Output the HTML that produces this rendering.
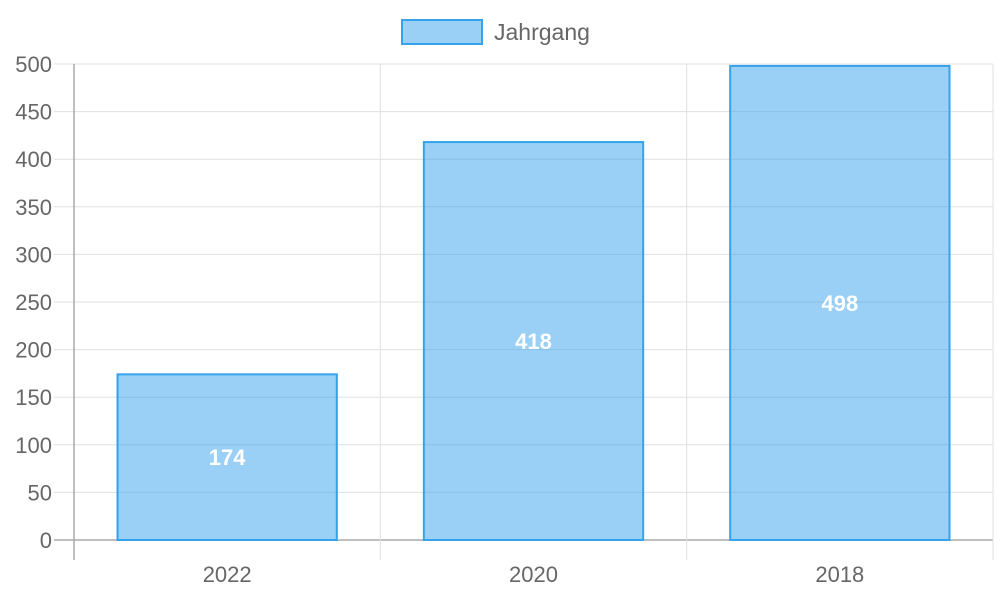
<!DOCTYPE html>
<html><head><meta charset="utf-8"><style>
html,body{margin:0;padding:0;background:#fff;}
svg{display:block;font-family:"Liberation Sans",sans-serif;}
</style></head><body>
<svg id="chart" width="1000" height="600">
<g>
<rect x="402" y="20" width="80" height="24" fill="rgba(54,162,235,0.5)" stroke="#36a2eb" stroke-width="2"/>
<text x="494" y="40" font-size="23" fill="#666">Jahrgang</text>
</g>
<g id="grid"></g><g id="bars"></g><g id="labels"></g>
</svg>
<script>
const categories=["2022","2020","2018"];
const values=[174,418,498];
const yTicks=[0,50,100,150,200,250,300,350,400,450,500];
const L=74,R=993,T=64,B=540,yMax=500;
const ns="http://www.w3.org/2000/svg";
const svg=document.getElementById('chart');
const g=document.getElementById('grid'),gb=document.getElementById('bars'),gl=document.getElementById('labels');
const y=v=>B-(v/yMax)*(B-T);
const cw=(R-L)/categories.length;
const x=i=>L+cw*i;
function mk(tag,attrs,parent){const e=document.createElementNS(ns,tag);for(const k in attrs)e.setAttribute(k,attrs[k]);parent.appendChild(e);return e;}
yTicks.forEach(t=>{
  const ln=mk('line',{x1:54,x2:R,y1:y(t),y2:y(t),stroke:t===0?'#aaa':'#e0e0e0','stroke-width':t===0?1.5:1},g);
  
  
  const tx=mk('text',{x:52,y:y(t)+8,'text-anchor':'end','font-size':22,fill:'#666'},g);
  tx.textContent=t;
  
  
});
for(let i=0;i<=categories.length;i++){
  const ln=mk('line',{x1:x(i),x2:x(i),y1:T,y2:560,stroke:i===0?'#aaa':'#e0e0e0','stroke-width':i===0?1.5:1},g);
  
  
}
categories.forEach((c,i)=>{
  const cx=x(i)+cw/2,bw=cw*0.716;
  const r=mk('rect',{x:cx-bw/2,y:y(values[i]),width:bw,height:B-y(values[i]),fill:'rgba(54,162,235,0.5)',stroke:'#36a2eb','stroke-width':2},gb);
  
  
  const v=mk('text',{x:cx,y:(y(values[i])+B)/2+8,'text-anchor':'middle','font-size':22,'font-weight':'bold',fill:'#fff'},gl);
  v.textContent=values[i];
  
  
  const t=mk('text',{x:cx,y:582,'text-anchor':'middle','font-size':22,fill:'#666'},gl);
  t.textContent=c;
  
  
});
</script>
</body></html>
